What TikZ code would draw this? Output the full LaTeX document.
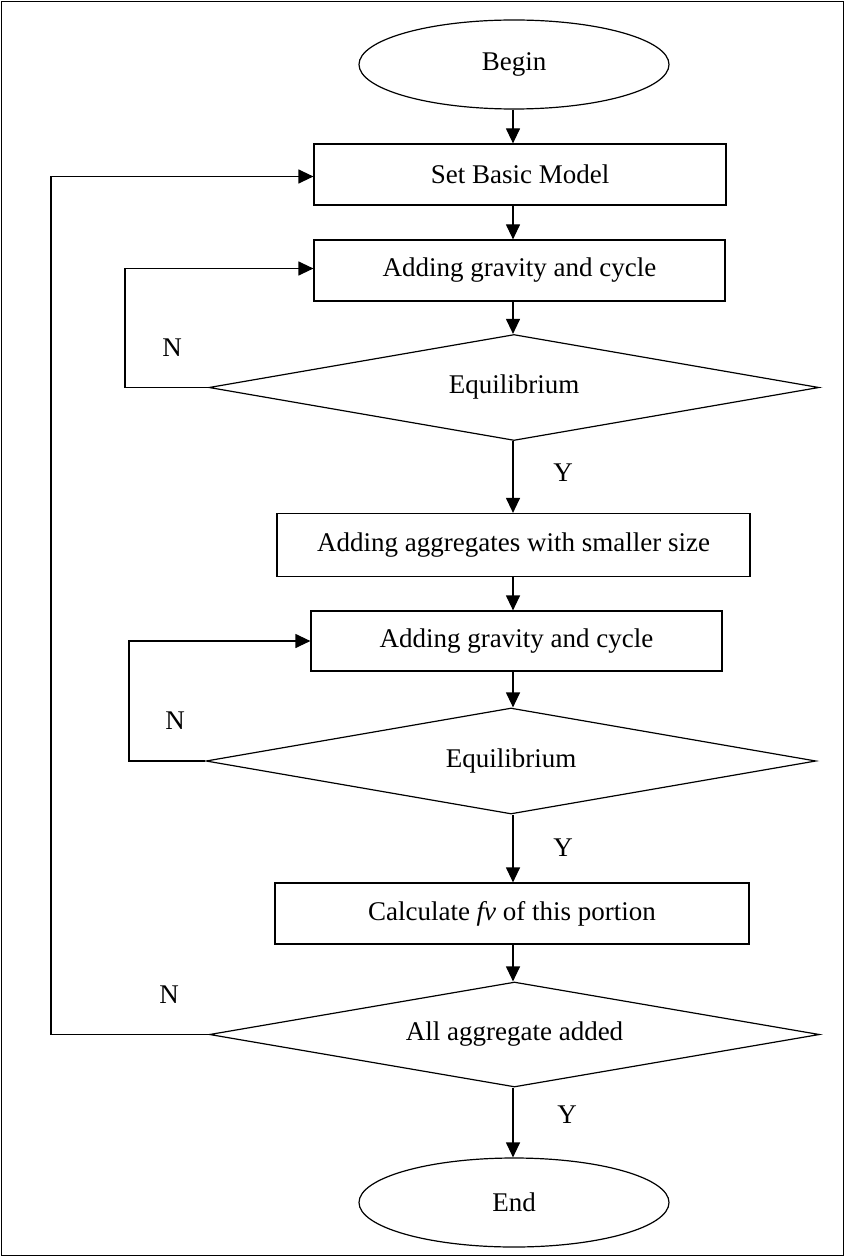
\documentclass[tikz,border=0pt]{standalone}
\usepackage{fontspec}
\setmainfont{Liberation Serif}
\usetikzlibrary{shapes.geometric,arrows.meta}

\tikzset{
	every node/.style={font=\fontsize{13.5}{16}\selectfont},
	terminal/.style={draw, ellipse, line width=0.6pt, inner sep=0pt, minimum width=155pt, minimum height=44.5pt},
	process/.style={draw, rectangle, line width=0.6pt, inner sep=0pt, minimum height=30.5pt},
	decision/.style={draw, diamond, shape aspect=5.7, line width=0.6pt, inner sep=0pt, minimum width=305pt, minimum height=53pt},
	flow/.style={draw, line width=0.6pt, -{Triangle[length=7.5pt,width=7pt]}}
}

\begin{document}
\begin{tikzpicture}[x=0.5pt, y=-0.5pt]
			%%%%% START %%%%%
			\useasboundingbox (0, 0) rectangle (845, 1257);
			\draw[line width=0.6pt] (1.5, 1.5) rectangle (843.5, 1255.5);
			
			\coordinate (spine) at (513, 0);
			
			\node[terminal] (begin) at (514, 64.5) {Begin};
			\node[process, minimum width=206pt] (setmodel) at (520, 174.5) {Set Basic Model};
			\node[process, minimum width=205.5pt] (gravA) at (519.5, 270.5) {Adding gravity and cycle};
			\node[decision] (eqA) at (514, 387.5) {Equilibrium};
			\node[process, minimum width=236.5pt, minimum height=31.5pt] (smaller) at (513.5, 545) {Adding aggregates with smaller size};
			\node[process, minimum width=205.5pt, minimum height=30pt] (gravB) at (516.5, 641) {Adding gravity and cycle};
			\node[decision] (eqB) at (511, 761) {Equilibrium};
			\node[process, minimum width=237pt] (calc) at (512, 913.5) {Calculate \textit{fv} of this portion};
			\node[decision, minimum height=52.5pt] (eqC) at (514.5, 1034.5) {All aggregate added};
			\node[terminal] (finish) at (514, 1202.5) {End};
			
			% main line
			\draw[flow] (spine |- begin.south) -- (spine |- setmodel.north);
			\draw[flow] (spine |- setmodel.south) -- (spine |- gravA.north);
			\draw[flow] (spine |- gravA.south) -- (spine |- eqA.north);
			\draw[flow] (spine |- eqA.south) -- (spine |- smaller.north);
			\draw[flow] (spine |- smaller.south) -- (spine |- gravB.north);
			\draw[flow] (spine |- gravB.south) -- (spine |- eqB.north);
			\draw[flow] (spine |- eqB.south) -- (spine |- calc.north);
			\draw[flow] (spine |- calc.south) -- (spine |- eqC.north);
			\draw[flow] (spine |- eqC.south) -- (spine |- finish.north);
			
			% loops back
			\draw[flow] (eqA.west) -- (125, 387.5) |- ([yshift=1pt]gravA.west);
			\draw[flow] (eqB.west) -- (129, 761) |- (gravB.west);
			\draw[flow] (eqC.west) -- (51, 1034.5) |- ([yshift=-1pt]setmodel.west);
			
			\node (nA) at (172, 348) {N};
			\node (nB) at (175, 721) {N};
			\node (nC) at (169, 995) {N};
			\node (yA) at (563, 473) {Y};
			\node (yB) at (563, 848) {Y};
			\node (yC) at (567, 1115) {Y};
			%%%%% END %%%%%
		\end{tikzpicture}
\end{document}
